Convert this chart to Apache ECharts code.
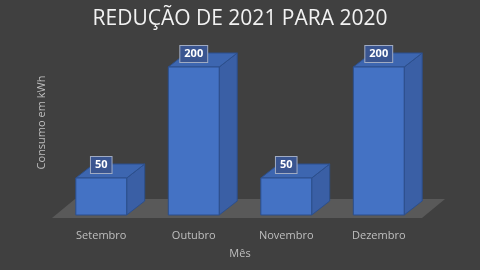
<!DOCTYPE html>
<html>
<head>
<meta charset="utf-8">
<script src="https://cdn.jsdelivr.net/npm/echarts@6/dist/echarts.min.js"></script>
<style>html,body{margin:0;padding:0;background:#404040;}#c{width:480px;height:270px;}</style>
</head>
<body>
<div id="c"></div>
<script>
const categories = ['Setembro', 'Outubro', 'Novembro', 'Dezembro'];
const values = [50, 200, 50, 200];
const titleText = 'REDUÇÃO DE 2021 PARA 2020';
const yName = 'Consumo em kWh';
const xName = 'Mês';

const chart = echarts.init(document.getElementById('c'), null, {renderer: 'canvas'});
const DX = 18, DY = -14;
const FONT = 'Open Sans';

function renderBar(params, api) {
  const idx = api.value(0), val = api.value(1);
  const top = api.coord([idx, val]);
  const base = api.coord([idx, 0]);
  const w = api.size([1, 0])[0] * 0.55;
  const x0 = top[0] - w / 2, x1 = top[0] + w / 2;
  const yT = top[1], yB = base[1];
  const edge = '#2c4f8c';
  return {
    type: 'group',
    children: [
      {type: 'polygon', shape: {points: [[x1, yT], [x1 + DX, yT + DY], [x1 + DX, yB + DY], [x1, yB]]},
        style: {fill: '#3a5fa5', stroke: edge, lineWidth: 1}},
      {type: 'polygon', shape: {points: [[x0, yT], [x0 + DX, yT + DY], [x1 + DX, yT + DY], [x1, yT]]},
        style: {fill: '#3d66b0', stroke: edge, lineWidth: 1}},
      {type: 'rect', shape: {x: x0, y: yT, width: w, height: yB - yT},
        style: {fill: '#4472c4', stroke: edge, lineWidth: 1}},
      {type: 'text', x: top[0], y: yT - 13,
        style: {text: String(val), fill: '#ffffff', font: 'bold 11px "' + FONT + '"',
          align: 'center', verticalAlign: 'middle',
          backgroundColor: '#3a5590', borderColor: '#a0abc2', borderWidth: 1, padding: [3, 4, 2, 4]}}
    ]
  };
}

function renderFloor(params, api) {
  const cs = params.coordSys;
  const x = cs.x, w = cs.width, zy = cs.y + cs.height;
  return {
    type: 'polygon',
    shape: {points: [[x - 3, zy + 3], [x + w - 3, zy + 3], [x + w + 20, zy - 16], [x + 20, zy - 16]]},
    style: {fill: '#595959'}
  };
}

chart.setOption({
  backgroundColor: '#404040',
  animation: false,
  title: {text: titleText, left: 'center', top: 4,
    textStyle: {color: '#f2f2f2', fontSize: 21, fontWeight: 'normal', fontFamily: FONT}},
  grid: {left: 55, right: 55, top: 30, bottom: 55},
  xAxis: {type: 'category', data: categories,
    axisLine: {show: false}, axisTick: {show: false},
    axisLabel: {color: '#bfbfbf', fontSize: 11, margin: 15, fontFamily: FONT},
    name: xName, nameLocation: 'middle', nameGap: 33,
    nameTextStyle: {color: '#bfbfbf', fontSize: 11, fontFamily: FONT}},
  yAxis: {type: 'value', min: 0, max: 250,
    axisLine: {show: false}, axisTick: {show: false}, axisLabel: {show: false}, splitLine: {show: false},
    name: yName, nameLocation: 'middle', nameGap: 8, nameRotate: 90,
    nameTextStyle: {color: '#bfbfbf', fontSize: 11, fontFamily: FONT}},
  series: [
    {type: 'custom', renderItem: renderFloor, data: [[0, 0]], clip: false, silent: true, z: 1},
    {type: 'custom', renderItem: renderBar, data: values.map((v, i) => [i, v]), clip: false, z: 2}
  ]
});
</script>
</body>
</html>
